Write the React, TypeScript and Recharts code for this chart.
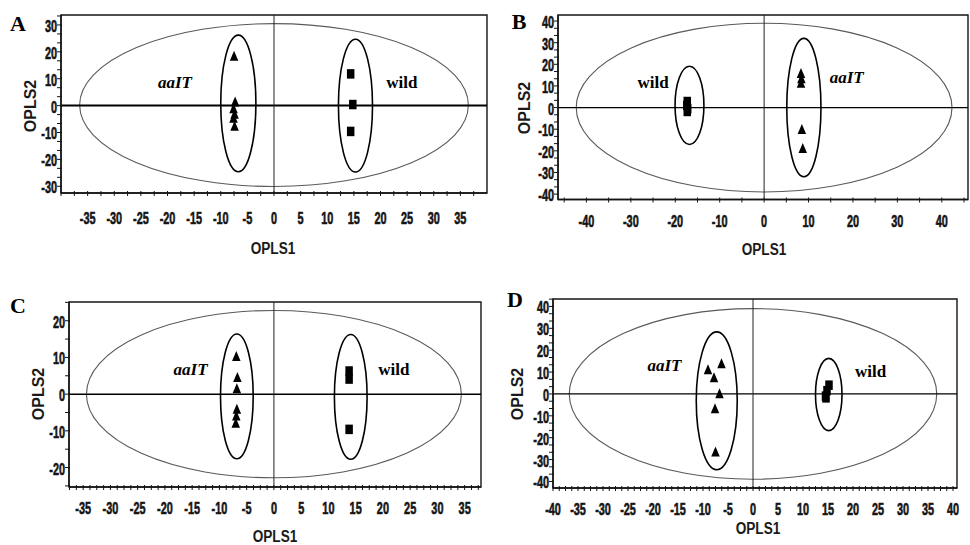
import React from 'react';
import { ScatterChart, Scatter, XAxis, YAxis, ReferenceLine, ReferenceArea, ReferenceDot } from 'recharts';

type Pt = { x: number; y: number };
type Ell = { cx: number; cy: number; rx: number; ry: number; outer?: boolean };
type Lbl = { text: string; x: number; y: number; italic?: boolean };

// ---------- Panel A ----------
const aTriangles: Pt[] = [
  { x: -7.5, y: 18.5 }, { x: -7.3, y: 1.5 }, { x: -7.6, y: -1 },
  { x: -7.4, y: -3 }, { x: -7.6, y: -4.5 }, { x: -7.4, y: -7.5 },
];
const aSquares: Pt[] = [{ x: 14.4, y: 11.8 }, { x: 14.8, y: 0.4 }, { x: 14.4, y: -9.6 }];
const aEllipses: Ell[] = [
  { cx: 0, cy: 0.2, rx: 36.5, ry: 30.3, outer: true },
  { cx: -6.7, cy: 0.8, rx: 3.3, ry: 25.4 },
  { cx: 15.3, cy: 0, rx: 3.2, ry: 24.7 },
];
const aLabels: Lbl[] = [{ text: 'aaIT', x: -18.6, y: 8.6, italic: true }, { text: 'wild', x: 24, y: 8.6 }];
const aXTicks = [-35, -30, -25, -20, -15, -10, -5, 0, 5, 10, 15, 20, 25, 30, 35];
const aYTicks = [-30, -20, -10, 0, 10, 20, 30];

// ---------- Panel B ----------
const bTriangles: Pt[] = [
  { x: 8.3, y: 16 }, { x: 8.4, y: 13.5 }, { x: 8.3, y: 11.5 },
  { x: 8.5, y: -9.9 }, { x: 8.7, y: -18.7 },
];
const bSquares: Pt[] = [{ x: -17.3, y: 2.8 }, { x: -17.4, y: 1 }, { x: -17.2, y: -0.5 }, { x: -17.3, y: -1.8 }];
const bEllipses: Ell[] = [
  { cx: 0, cy: 0, rx: 42.3, ry: 39, outer: true },
  { cx: -16.8, cy: 1.0, rx: 3.25, ry: 18.1 },
  { cx: 8.95, cy: 0, rx: 3.85, ry: 32 },
];
const bLabels: Lbl[] = [{ text: 'wild', x: -25, y: 11.4 }, { text: 'aaIT', x: 18.6, y: 13.9, italic: true }];
const bXTicks = [-40, -30, -20, -10, 0, 10, 20, 30, 40];
const bYTicks = [-40, -30, -20, -10, 0, 10, 20, 30, 40];

// ---------- Panel C ----------
const cTriangles: Pt[] = [
  { x: -6.9, y: 10.4 }, { x: -6.7, y: 4.7 }, { x: -6.8, y: 1.6 },
  { x: -6.8, y: -4 }, { x: -6.9, y: -5.8 }, { x: -7.0, y: -7.8 },
];
const cSquares: Pt[] = [{ x: 13.8, y: 6.3 }, { x: 13.8, y: 4.1 }, { x: 13.8, y: -9.6 }];
const cEllipses: Ell[] = [
  { cx: 0, cy: 0, rx: 34.4, ry: 22.8, outer: true },
  { cx: -6.8, cy: -0.6, rx: 3.0, ry: 17 },
  { cx: 14.1, cy: -0.75, rx: 3.0, ry: 17 },
];
const cLabels: Lbl[] = [{ text: 'aaIT', x: -15.3, y: 6.7, italic: true }, { text: 'wild', x: 22, y: 6.8 }];
const cXTicks = [-35, -30, -25, -20, -15, -10, -5, 0, 5, 10, 15, 20, 25, 30, 35];
const cYTicks = [-20, -10, 0, 10, 20];

// ---------- Panel D ----------
const dTriangles: Pt[] = [
  { x: -9.0, y: 11.3 }, { x: -6.3, y: 14 }, { x: -7.8, y: 7.6 },
  { x: -6.7, y: 0.3 }, { x: -7.6, y: -6.5 }, { x: -7.5, y: -26.3 },
];
const dSquares: Pt[] = [{ x: 15.2, y: 4 }, { x: 14.8, y: 1.5 }, { x: 14.5, y: -1 }, { x: 14.6, y: -1.8 }];
const dEllipses: Ell[] = [
  { cx: 0, cy: 0, rx: 36.75, ry: 39, outer: true },
  { cx: -7.25, cy: -3.15, rx: 4.1, ry: 31.5 },
  { cx: 15.15, cy: -0.25, rx: 2.65, ry: 16.5 },
];
const dLabels: Lbl[] = [{ text: 'aaIT', x: -17.7, y: 12.8, italic: true }, { text: 'wild', x: 23.5, y: 10.2 }];
const dXTicks = [-40, -35, -30, -25, -20, -15, -10, -5, 0, 5, 10, 15, 20, 25, 30, 35, 40];
const dYTicks = [-40, -30, -20, -10, 0, 10, 20, 30, 40];

const INK = '#141414';
const TICK_FONT = '"Liberation Sans", Arial, sans-serif';

function minorTicks(domain: [number, number], step: number): number[] {
  const out: number[] = [];
  const start = Math.ceil((domain[0] - 1e-9) / step);
  for (let i = start; i * step <= domain[1] + 1e-9; i++) {
    const v = i * step;
    if (Math.abs(v - domain[1]) < 1e-6) continue;
    out.push(Number(v.toFixed(6)));
  }
  return out;
}

function isMajor(v: number, majors: number[]) {
  return majors.some((m) => Math.abs(m - v) < 1e-6);
}

const TriShape = (p: any) => {
  const { cx, cy } = p;
  const w = 8.5, h = 10;
  return <path d={`M${cx},${cy - h / 2}L${cx + w / 2},${cy + h / 2}L${cx - w / 2},${cy + h / 2}Z`} fill="#000" />;
};
const SqShape = (p: any) => {
  const { cx, cy } = p;
  const w = 7.5, h = 9.5;
  return <rect x={cx - w / 2} y={cy - h / 2} width={w} height={h} fill="#000" />;
};

interface PanelCfg {
  left: number; top: number; width: number; height: number;
  margin: { top: number; right: number; bottom: number; left: number };
  xDomain: [number, number]; yDomain: [number, number];
  xMajor: number[]; xStep: number; yMajor: number[]; yStep: number;
  tri: Pt[]; sq: Pt[]; ell: Ell[]; labels: Lbl[];
  xLabelOffset: number; hLineWidth: number;
}

const X_AXIS_H = 30;
const Y_AXIS_W = 40;

const tickTextProps = {
  fontFamily: TICK_FONT, fontWeight: 'bold' as const, fontSize: 17, fill: INK,
  stroke: INK, strokeWidth: 0.6,
};

function Panel({ cfg }: { cfg: PanelCfg }) {
  const xTicks = minorTicks(cfg.xDomain, cfg.xStep);
  const yTicks = minorTicks(cfg.yDomain, cfg.yStep);
  const XTick = (p: any) => {
    const { x, y, payload } = p;
    const v = payload.value;
    return (
      <g>
        <line x1={x} x2={x} y1={y - 2} y2={y + 3} stroke={INK} strokeWidth={1} />
        {isMajor(v, cfg.xMajor) && (
          <text transform={`translate(${x},${y + cfg.xLabelOffset}) scale(0.64,1)`} textAnchor="middle" dominantBaseline="central"
            {...tickTextProps}>{String(v)}</text>
        )}
      </g>
    );
  };
  const YTick = (p: any) => {
    const { x, y, payload } = p;
    const v = payload.value;
    return (
      <g>
        <line x1={x - 4} x2={x + 1} y1={y} y2={y} stroke={INK} strokeWidth={1} />
        {isMajor(v, cfg.yMajor) && (
          <text transform={`translate(${x - 4},${y + 1}) scale(0.64,1)`} textAnchor="end" dominantBaseline="central"
            {...tickTextProps}>{String(v)}</text>
        )}
      </g>
    );
  };
  const m = { ...cfg.margin, left: cfg.margin.left - Y_AXIS_W, bottom: cfg.margin.bottom - X_AXIS_H };
  return (
    <div style={{ position: 'absolute', left: cfg.left, top: cfg.top, width: cfg.width, height: cfg.height }}>
      <ScatterChart width={cfg.width} height={cfg.height} margin={m}>
        <XAxis type="number" dataKey="x" domain={cfg.xDomain} allowDataOverflow ticks={xTicks} interval={0}
          height={X_AXIS_H} tickSize={0} tickMargin={0} tickLine={false} tick={XTick} axisLine={{ stroke: INK, strokeWidth: 1.4 }} />
        <YAxis type="number" dataKey="y" domain={cfg.yDomain} allowDataOverflow ticks={yTicks} interval={0}
          width={Y_AXIS_W} tickSize={0} tickMargin={0} tickLine={false} tick={YTick} axisLine={{ stroke: INK, strokeWidth: 1.4 }} />
        <ReferenceArea x1={cfg.xDomain[0]} x2={cfg.xDomain[1]} y1={cfg.yDomain[0]} y2={cfg.yDomain[1]}
          ifOverflow="visible" fill="none" fillOpacity={0} stroke={INK} strokeWidth={1.4} />
        <ReferenceLine y={0} stroke="#000" strokeWidth={cfg.hLineWidth} ifOverflow="visible" />
        <ReferenceLine x={0} stroke="#222" strokeWidth={1} ifOverflow="visible" />
        {cfg.ell.map((e, i) => (
          <ReferenceArea key={'e' + i} x1={e.cx - e.rx} x2={e.cx + e.rx} y1={e.cy - e.ry} y2={e.cy + e.ry} ifOverflow="visible"
            shape={(p: any) => (
              <ellipse cx={p.x + p.width / 2} cy={p.y + p.height / 2} rx={Math.abs(p.width) / 2} ry={Math.abs(p.height) / 2}
                fill="none" stroke={e.outer ? '#5a5a5a' : '#000'} strokeWidth={e.outer ? 1.1 : 1.6} />
            )} />
        ))}
        {cfg.labels.map((l, i) => (
          <ReferenceDot key={'l' + i} x={l.x} y={l.y} r={0} ifOverflow="visible"
            shape={(p: any) => (
              <text x={p.cx} y={p.cy} textAnchor="middle" dominantBaseline="central" fontFamily='"Liberation Serif", "Times New Roman", serif'
                fontWeight="bold" fontStyle={l.italic ? 'italic' : 'normal'} fontSize={17} fill="#000">{l.text}</text>
            )} />
        ))}
        <Scatter data={cfg.tri} shape={TriShape} isAnimationActive={false} />
        <Scatter data={cfg.sq} shape={SqShape} isAnimationActive={false} />
      </ScatterChart>
    </div>
  );
}

const panels: PanelCfg[] = [
  {
    left: 0, top: 0, width: 490, height: 262, margin: { top: 15, right: 3, bottom: 69, left: 61 },
    xDomain: [-40, 40], yDomain: [-32.5, 33.7], xMajor: aXTicks, xStep: 2.5, yMajor: aYTicks, yStep: 10 / 3,
    tri: aTriangles, sq: aSquares, ell: aEllipses, labels: aLabels, xLabelOffset: 25, hLineWidth: 2,
  },
  {
    left: 490, top: 0, width: 480, height: 262, margin: { top: 15, right: 2, bottom: 62.5, left: 68 },
    xDomain: [-46.4, 45.9], yDomain: [-42.5, 42.8], xMajor: bXTicks, xStep: 5, yMajor: bYTicks, yStep: 10 / 3,
    tri: bTriangles, sq: bSquares, ell: bEllipses, labels: bLabels, xLabelOffset: 22, hLineWidth: 1.3,
  },
  {
    left: 0, top: 270, width: 490, height: 275, margin: { top: 32, right: 9, bottom: 58, left: 69 },
    xDomain: [-37.6, 38], yDomain: [-25.3, 25.1], xMajor: cXTicks, xStep: 1.25, yMajor: cYTicks, yStep: 5,
    tri: cTriangles, sq: cSquares, ell: cEllipses, labels: cLabels, xLabelOffset: 21, hLineWidth: 1.5,
  },
  {
    left: 490, top: 270, width: 480, height: 275, margin: { top: 29, right: 13, bottom: 57, left: 63 },
    xDomain: [-40, 40.8], yDomain: [-43, 43.4], xMajor: dXTicks, xStep: 1.25, yMajor: dYTicks, yStep: 10 / 3,
    tri: dTriangles, sq: dSquares, ell: dEllipses, labels: dLabels, xLabelOffset: 21, hLineWidth: 1.3,
  },
];

const panelLetters = [
  { text: 'A', x: 18, y: 23 },
  { text: 'B', x: 519, y: 21 },
  { text: 'C', x: 18, y: 305 },
  { text: 'D', x: 515, y: 299 },
];
const xTitles = [
  { x: 273, y: 248 }, { x: 764, y: 249 }, { x: 275, y: 536 }, { x: 758, y: 528 },
];
const yTitles = [
  { x: 30, y: 106 }, { x: 524, y: 108 }, { x: 38, y: 394 }, { x: 517, y: 394 },
];

export default function App() {
  return (
    <div style={{ position: 'absolute', left: 0, top: 0, width: 970, height: 545, background: '#fff', overflow: 'hidden' }}>
      {panels.map((p, i) => <Panel key={i} cfg={p} />)}
      <svg width={970} height={545} style={{ position: 'absolute', left: 0, top: 0, pointerEvents: 'none' }}>
        {panelLetters.map((l, i) => (
          <text key={'L' + i} x={l.x} y={l.y} textAnchor="middle" dominantBaseline="central"
            fontFamily='"Liberation Serif", "Times New Roman", serif' fontWeight="bold" fontSize={22} fill="#000">{l.text}</text>
        ))}
        {xTitles.map((t, i) => (
          <text key={'X' + i} transform={`translate(${t.x},${t.y}) scale(0.8,1)`} textAnchor="middle" dominantBaseline="central"
            fontFamily={TICK_FONT} fontWeight="bold" fontSize={17} fill="#1a1a1a">OPLS1</text>
        ))}
        {yTitles.map((t, i) => (
          <text key={'Y' + i} transform={`translate(${t.x},${t.y}) rotate(-90)`} textAnchor="middle" dominantBaseline="central"
            fontFamily='"Liberation Sans", Arial, sans-serif' fontWeight="bold" fontSize={16} fill="#1a1a1a">OPLS2</text>
        ))}
      </svg>
    </div>
  );
}
